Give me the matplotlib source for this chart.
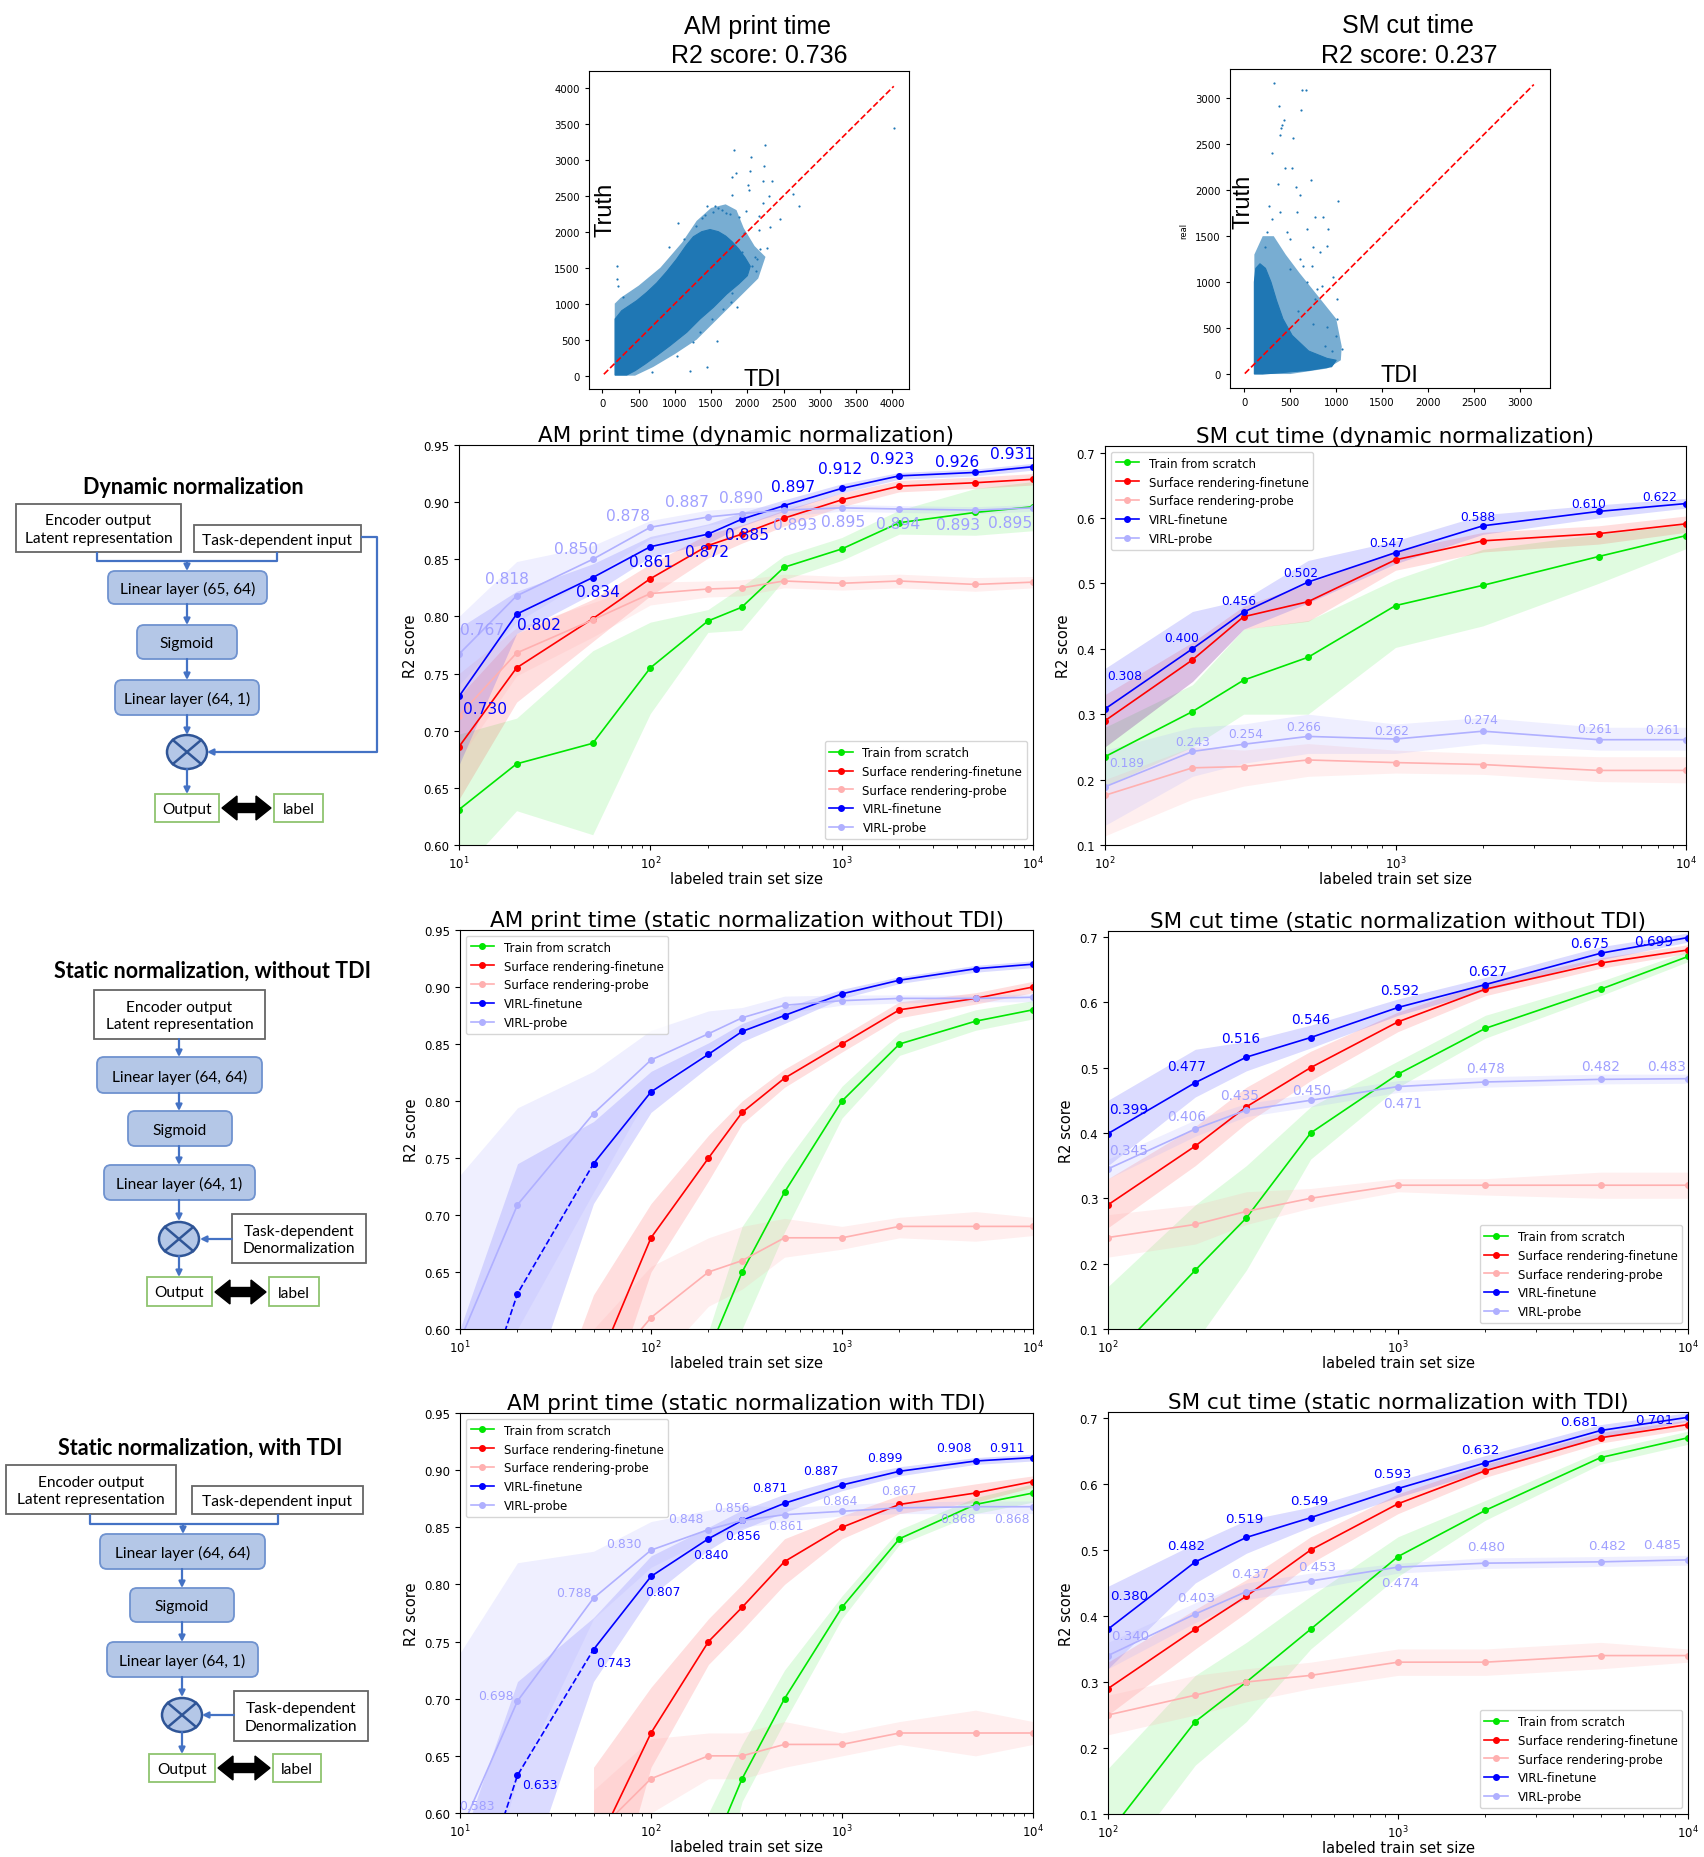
import numpy as np
import matplotlib
matplotlib.use("Agg")
import matplotlib.pyplot as plt
from matplotlib.patches import FancyBboxPatch, Rectangle, Ellipse, Polygon

nan = np.nan

# ---------------- data ----------------
SIZES_AM = [10, 20, 50, 100, 200, 300, 500, 1000, 2000, 5000, 10000]
SIZES_SM = [100, 200, 300, 500, 1000, 2000, 5000, 10000]

# AM print time, dynamic normalization
am_dyn_scratch = [0.631, 0.671, 0.689, 0.755, 0.796, 0.808, 0.843, 0.859, 0.882, 0.891, 0.896]
am_dyn_scratch_lo = [0.575, 0.630, 0.609, 0.715, 0.786, 0.788, 0.832, 0.849, 0.872, 0.871, 0.875]
am_dyn_scratch_hi = [0.697, 0.711, 0.770, 0.795, 0.806, 0.826, 0.853, 0.869, 0.893, 0.912, 0.918]
am_dyn_srft = [0.686, 0.755, 0.798, 0.833, 0.862, 0.872, 0.886, 0.902, 0.914, 0.917, 0.920]
am_dyn_srft_lo = [0.640, 0.725, 0.778, 0.818, 0.851, 0.864, 0.879, 0.896, 0.909, 0.912, 0.915]
am_dyn_srft_hi = [0.730, 0.785, 0.815, 0.846, 0.872, 0.880, 0.893, 0.908, 0.919, 0.922, 0.925]
am_dyn_srpr = [0.713, 0.768, 0.797, 0.820, 0.824, 0.825, 0.831, 0.829, 0.831, 0.828, 0.830]
am_dyn_srpr_lo = [0.675, 0.748, 0.782, 0.810, 0.817, 0.818, 0.825, 0.823, 0.825, 0.822, 0.825]
am_dyn_srpr_hi = [0.750, 0.790, 0.812, 0.830, 0.831, 0.832, 0.837, 0.835, 0.837, 0.834, 0.835]
am_dyn_virlft = [0.730, 0.802, 0.834, 0.861, 0.872, 0.885, 0.897, 0.912, 0.923, 0.926, 0.931]
am_dyn_virlft_lo = [0.670, 0.785, 0.820, 0.852, 0.864, 0.879, 0.892, 0.908, 0.920, 0.923, 0.928]
am_dyn_virlft_hi = [0.790, 0.822, 0.846, 0.870, 0.881, 0.891, 0.902, 0.916, 0.926, 0.929, 0.934]
am_dyn_virlpr = [0.767, 0.818, 0.850, 0.878, 0.887, 0.890, 0.893, 0.895, 0.894, 0.893, 0.895]
am_dyn_virlpr_lo = [0.740, 0.795, 0.835, 0.868, 0.880, 0.884, 0.888, 0.892, 0.891, 0.890, 0.892]
am_dyn_virlpr_hi = [0.800, 0.848, 0.862, 0.884, 0.893, 0.895, 0.897, 0.898, 0.897, 0.896, 0.898]

# SM cut time, dynamic normalization
sm_dyn_scratch = [0.235, 0.304, 0.352, 0.387, 0.466, 0.497, 0.541, 0.573]
sm_dyn_scratch_lo = [0.190, 0.250, 0.300, 0.300, 0.402, 0.435, 0.500, 0.553]
sm_dyn_scratch_hi = [0.280, 0.345, 0.430, 0.443, 0.506, 0.552, 0.575, 0.590]
sm_dyn_srft = [0.290, 0.383, 0.449, 0.472, 0.536, 0.565, 0.576, 0.591]
sm_dyn_srft_lo = [0.250, 0.350, 0.430, 0.442, 0.520, 0.548, 0.560, 0.578]
sm_dyn_srft_hi = [0.330, 0.410, 0.465, 0.500, 0.550, 0.578, 0.588, 0.603]
sm_dyn_srpr = [0.176, 0.218, 0.220, 0.230, 0.226, 0.223, 0.214, 0.214]
sm_dyn_srpr_lo = [0.114, 0.170, 0.190, 0.205, 0.210, 0.208, 0.197, 0.195]
sm_dyn_srpr_hi = [0.200, 0.250, 0.245, 0.255, 0.245, 0.240, 0.235, 0.235]
sm_dyn_virlft = [0.308, 0.400, 0.456, 0.502, 0.547, 0.588, 0.610, 0.622]
sm_dyn_virlft_lo = [0.250, 0.350, 0.430, 0.470, 0.530, 0.575, 0.600, 0.615]
sm_dyn_virlft_hi = [0.370, 0.457, 0.475, 0.535, 0.565, 0.605, 0.620, 0.630]
sm_dyn_virlpr = [0.189, 0.243, 0.254, 0.266, 0.262, 0.274, 0.261, 0.261]
sm_dyn_virlpr_lo = [0.130, 0.205, 0.225, 0.240, 0.240, 0.255, 0.245, 0.245]
sm_dyn_virlpr_hi = [0.245, 0.280, 0.285, 0.300, 0.285, 0.295, 0.280, 0.280]

# AM print time, static normalization without TDI
am_wo_scratch = [nan, nan, nan, nan, 0.58, 0.65, 0.72, 0.80, 0.85, 0.87, 0.88]
am_wo_scratch_lo = [nan, nan, nan, nan, 0.50, 0.60, 0.685, 0.785, 0.840, 0.862, 0.872]
am_wo_scratch_hi = [nan, nan, nan, nan, 0.598, 0.69, 0.745, 0.813, 0.860, 0.880, 0.888]
am_wo_srft = [nan, 0.40, 0.56, 0.68, 0.75, 0.79, 0.82, 0.85, 0.88, 0.89, 0.90]
am_wo_srft_lo = [nan, 0.33, 0.50, 0.65, 0.73, 0.78, 0.812, 0.843, 0.873, 0.885, 0.895]
am_wo_srft_hi = [nan, 0.45, 0.63, 0.71, 0.77, 0.80, 0.828, 0.857, 0.887, 0.895, 0.905]
am_wo_srpr = [nan, nan, 0.55, 0.61, 0.65, 0.66, 0.68, 0.68, 0.69, 0.69, 0.69]
am_wo_srpr_lo = [nan, nan, 0.50, 0.565, 0.62, 0.635, 0.663, 0.670, 0.680, 0.677, 0.682]
am_wo_srpr_hi = [nan, nan, 0.60, 0.655, 0.68, 0.69, 0.697, 0.690, 0.698, 0.703, 0.698]
am_wo_virlft = [0.48, 0.631, 0.745, 0.808, 0.841, 0.861, 0.875, 0.894, 0.906, 0.916, 0.920]
am_wo_virlft_lo = [0.35, 0.515, 0.710, 0.790, 0.830, 0.852, 0.868, 0.890, 0.903, 0.913, 0.917]
am_wo_virlft_hi = [0.60, 0.745, 0.782, 0.826, 0.851, 0.868, 0.882, 0.898, 0.909, 0.919, 0.923]
am_wo_virlpr = [0.59, 0.709, 0.789, 0.836, 0.859, 0.873, 0.884, 0.888, 0.890, 0.890, 0.891]
am_wo_virlpr_lo = [0.45, 0.60, 0.72, 0.81, 0.845, 0.862, 0.877, 0.884, 0.886, 0.887, 0.887]
am_wo_virlpr_hi = [0.735, 0.794, 0.826, 0.862, 0.879, 0.882, 0.892, 0.893, 0.893, 0.893, 0.894]

# SM cut time, static normalization without TDI
sm_wo_scratch = [0.05, 0.19, 0.27, 0.40, 0.49, 0.56, 0.62, 0.67]
sm_wo_scratch_lo = [0.00, 0.08, 0.19, 0.36, 0.47, 0.545, 0.61, 0.662]
sm_wo_scratch_hi = [0.165, 0.29, 0.35, 0.44, 0.51, 0.58, 0.632, 0.678]
sm_wo_srft = [0.29, 0.38, 0.44, 0.50, 0.57, 0.62, 0.66, 0.68]
sm_wo_srft_lo = [0.255, 0.35, 0.415, 0.48, 0.555, 0.61, 0.652, 0.675]
sm_wo_srft_hi = [0.33, 0.41, 0.47, 0.525, 0.585, 0.63, 0.668, 0.688]
sm_wo_srpr = [0.24, 0.26, 0.28, 0.30, 0.32, 0.32, 0.32, 0.32]
sm_wo_srpr_lo = [0.21, 0.23, 0.26, 0.285, 0.31, 0.305, 0.30, 0.30]
sm_wo_srpr_hi = [0.275, 0.29, 0.31, 0.315, 0.33, 0.33, 0.34, 0.34]
sm_wo_virlft = [0.399, 0.477, 0.516, 0.546, 0.592, 0.627, 0.675, 0.699]
sm_wo_virlft_lo = [0.35, 0.455, 0.495, 0.53, 0.58, 0.618, 0.665, 0.692]
sm_wo_virlft_hi = [0.45, 0.528, 0.54, 0.565, 0.605, 0.638, 0.685, 0.706]
sm_wo_virlpr = [0.345, 0.406, 0.435, 0.450, 0.471, 0.478, 0.482, 0.483]
sm_wo_virlpr_lo = [0.33, 0.395, 0.425, 0.44, 0.462, 0.47, 0.475, 0.476]
sm_wo_virlpr_hi = [0.36, 0.42, 0.445, 0.46, 0.48, 0.486, 0.49, 0.49]

# AM print time, static normalization with TDI
am_w_scratch = [nan, nan, nan, nan, 0.56, 0.63, 0.70, 0.78, 0.84, 0.87, 0.88]
am_w_scratch_lo = [nan, nan, nan, nan, 0.50, 0.61, 0.68, 0.77, 0.835, 0.862, 0.872]
am_w_scratch_hi = [nan, nan, nan, nan, 0.60, 0.66, 0.725, 0.79, 0.848, 0.876, 0.888]
am_w_srft = [nan, nan, 0.565, 0.67, 0.75, 0.78, 0.82, 0.85, 0.87, 0.88, 0.89]
am_w_srft_lo = [nan, nan, 0.46, 0.64, 0.73, 0.76, 0.80, 0.84, 0.862, 0.872, 0.885]
am_w_srft_hi = [nan, nan, 0.64, 0.71, 0.77, 0.80, 0.84, 0.86, 0.878, 0.888, 0.895]
am_w_srpr = [nan, nan, 0.58, 0.63, 0.65, 0.65, 0.66, 0.66, 0.67, 0.67, 0.67]
am_w_srpr_lo = [nan, nan, 0.54, 0.60, 0.63, 0.63, 0.64, 0.65, 0.66, 0.65, 0.66]
am_w_srpr_hi = [nan, nan, 0.62, 0.665, 0.67, 0.67, 0.68, 0.67, 0.68, 0.69, 0.68]
am_w_virlft = [0.48, 0.633, 0.743, 0.807, 0.840, 0.856, 0.871, 0.887, 0.899, 0.908, 0.911]
am_w_virlft_lo = [0.35, 0.52, 0.715, 0.79, 0.83, 0.848, 0.863, 0.882, 0.895, 0.905, 0.908]
am_w_virlft_hi = [0.57, 0.715, 0.771, 0.825, 0.85, 0.865, 0.879, 0.893, 0.903, 0.911, 0.914]
am_w_virlpr = [0.583, 0.698, 0.788, 0.830, 0.848, 0.856, 0.861, 0.864, 0.867, 0.868, 0.868]
am_w_virlpr_lo = [0.45, 0.63, 0.77, 0.815, 0.84, 0.85, 0.855, 0.86, 0.862, 0.862, 0.862]
am_w_virlpr_hi = [0.74, 0.819, 0.829, 0.855, 0.865, 0.87, 0.867, 0.87, 0.872, 0.873, 0.873]

# SM cut time, static normalization with TDI
sm_w_scratch = [0.07, 0.24, 0.30, 0.38, 0.49, 0.56, 0.64, 0.67]
sm_w_scratch_lo = [0.00, 0.174, 0.24, 0.35, 0.46, 0.545, 0.63, 0.66]
sm_w_scratch_hi = [0.169, 0.31, 0.36, 0.43, 0.52, 0.575, 0.65, 0.68]
sm_w_srft = [0.29, 0.38, 0.43, 0.50, 0.57, 0.62, 0.67, 0.69]
sm_w_srft_lo = [0.25, 0.35, 0.405, 0.48, 0.555, 0.61, 0.662, 0.683]
sm_w_srft_hi = [0.33, 0.41, 0.455, 0.52, 0.585, 0.63, 0.678, 0.697]
sm_w_srpr = [0.25, 0.28, 0.30, 0.31, 0.33, 0.33, 0.34, 0.34]
sm_w_srpr_lo = [0.22, 0.25, 0.27, 0.29, 0.31, 0.31, 0.32, 0.33]
sm_w_srpr_hi = [0.28, 0.31, 0.32, 0.33, 0.35, 0.35, 0.36, 0.35]
sm_w_virlft = [0.380, 0.482, 0.519, 0.549, 0.593, 0.632, 0.681, 0.701]
sm_w_virlft_lo = [0.32, 0.45, 0.495, 0.535, 0.58, 0.62, 0.67, 0.695]
sm_w_virlft_hi = [0.445, 0.51, 0.545, 0.565, 0.605, 0.643, 0.69, 0.708]
sm_w_virlpr = [0.340, 0.403, 0.437, 0.453, 0.474, 0.480, 0.482, 0.485]
sm_w_virlpr_lo = [0.32, 0.39, 0.425, 0.44, 0.465, 0.472, 0.475, 0.477]
sm_w_virlpr_hi = [0.36, 0.42, 0.45, 0.465, 0.48, 0.488, 0.49, 0.492]

# scatter: TDI vs truth (dense core, sparser fringe, individual outliers)
am_core_x = [175, 175, 267, 474, 612, 749, 887, 1025, 1154, 1255, 1370, 1485, 1600, 1700, 1790,
             1880, 1968, 2040, 2000, 1880, 1715, 1531, 1347, 1163, 933, 749, 589, 451, 336]
am_core_y = [9, 787, 903, 1042, 1157, 1287, 1445, 1620, 1806, 1930, 2000, 2030, 2000, 1940, 1860,
             1760, 1640, 1520, 1389, 1273, 1134, 949, 787, 602, 417, 278, 162, 69, 9]
am_fringe_x = [170, 170, 250, 500, 800, 1100, 1300, 1500, 1700, 1850, 1950, 2100, 2250, 2150,
               1950, 1700, 1500, 1300, 1000, 700, 450]
am_fringe_y = [0, 1000, 1080, 1250, 1500, 1850, 2150, 2330, 2380, 2300, 2050, 1800, 1650, 1350,
               1150, 900, 700, 500, 300, 120, 0]
am_out_x = [4028, 2244, 1816, 2051, 2230, 2032, 1839, 1793, 2345, 2221, 2014, 2023, 2635, 1788, 2304,
            2221, 2708, 1977, 1439, 2166, 2451, 1048, 2313, 2156, 2175, 2267, 924, 198, 198, 221,
            280, 1784, 1853, 1775, 1577, 1508, 1439, 1209, 680, 2060, 2106, 1922, 1669, 1347, 1255,
            1025, 1600, 1520, 1420, 1700, 1880, 1950, 2130, 2120, 1760, 1290, 1130, 1560, 1650, 1380]
am_out_y = [3440, 3209, 3134, 3033, 2917, 2838, 2810, 2755, 2699, 2699, 2653, 2584, 2523, 2509, 2491,
            2394, 2352, 2292, 2352, 2222, 2176, 2116, 2070, 2028, 1759, 1769, 1783, 1528, 1343, 1241,
            1088, 1148, 949, 1019, 477, 787, 116, 69, 46, 1528, 1644, 1713, 926, 602, 463,
            278, 2330, 2280, 2230, 2260, 2200, 1980, 1620, 1450, 2240, 2080, 1900, 2350, 2300, 2190]
am_diag = [20, 4020]

sm_core_x = [109, 109, 125, 170, 230, 290, 350, 420, 520, 700, 900, 1000, 950, 700, 400, 200]
sm_core_y = [0, 1000, 1150, 1200, 1150, 1000, 800, 600, 420, 250, 170, 150, 80, 40, 15, 0]
sm_fringe_x = [109, 109, 200, 320, 450, 600, 800, 1000, 1060, 1050, 900, 500]
sm_fringe_y = [0, 1300, 1500, 1500, 1300, 1100, 850, 600, 300, 150, 60, 0]
sm_out_x = [327, 377, 624, 671, 617, 435, 414, 399, 533, 443, 515, 726, 370, 566, 1023, 606, 272,
            860, 769, 914, 678, 461, 896, 751, 497, 961, 1005, 842, 1005, 896, 994, 787, 769, 678,
            606, 388, 297, 570, 243, 225, 1059, 860, 951, 878, 751, 588, 497, 642, 733, 824, 388, 300]
sm_out_y = [3164, 2921, 3091, 3091, 2873, 2768, 2714, 2677, 2569, 2242, 2242, 2115, 2068, 2039, 1879,
            1952, 1825, 1705, 1705, 1578, 1578, 1542, 1397, 1379, 1469, 1052, 816, 961, 599, 508,
            417, 925, 816, 998, 1252, 1760, 1687, 1760, 1542, 1379, 272, 91, 254, 308, 544, 689,
            1143, 1179, 1179, 1324, 2600, 2410]
sm_diag = [5, 3150]

# ---------------- style ----------------
W, H = 1704, 1858
NAMES = ["Train from scratch", "Surface rendering-finetune", "Surface rendering-probe",
         "VIRL-finetune", "VIRL-probe"]
COLORS = ["#00e600", "#ff0000", "#ffb0b0", "#0000ff", "#b0b0ff"]
BAND_ALPHA = [0.12, 0.13, 0.2, 0.14, 0.2]
FT_LABEL = "#0000ff"
PR_LABEL = "#a0a0ff"

fig = plt.figure(figsize=(W / 100, H / 100), dpi=100)


def rect(x0, y0, x1, y1):
    return [x0 / W, 1 - y1 / H, (x1 - x0) / W, (y1 - y0) / H]


def ftext(x, y, s, **kw):
    fig.text(x / W, 1 - y / H, s, **kw)


# ---------------- block diagrams ----------------
dg = fig.add_axes([0, 0, 1, 1])
dg.set_xlim(0, W)
dg.set_ylim(H, 0)
dg.axis("off")

BOX_FILL = "#b4c7e7"
BOX_EDGE = "#6f92cf"
CONN = "#4472c4"
DARK = "#2f5597"
DFONT = "Lato"


def layer_box(x0, y0, x1, y1, text):
    dg.add_patch(FancyBboxPatch((x0, y0), x1 - x0, y1 - y0,
                                boxstyle="round,pad=0,rounding_size=7",
                                fc=BOX_FILL, ec=BOX_EDGE, lw=1.3))
    dg.text((x0 + x1) / 2, (y0 + y1) / 2 + 1, text, ha="center", va="center",
            fontsize=11.2, family=DFONT)


def plain_box(x0, y0, x1, y1, text, ec="#666666"):
    dg.add_patch(Rectangle((x0, y0), x1 - x0, y1 - y0, fc="white", ec=ec, lw=1.3))
    dg.text((x0 + x1) / 2, (y0 + y1) / 2 + 1, text, ha="center", va="center",
            fontsize=11.2, family=DFONT, linespacing=1.3)


def arrow(x0, y0, x1, y1):
    dg.annotate("", xy=(x1, y1), xytext=(x0, y0),
                arrowprops=dict(arrowstyle="-|>", color=CONN, lw=1.6,
                                mutation_scale=9, shrinkA=0, shrinkB=0))


def wire(xs, ys):
    dg.plot(xs, ys, color=CONN, lw=1.6, solid_capstyle="butt")


def multiply(cx, cy):
    rx, ry = 20, 17
    dg.add_patch(Ellipse((cx, cy), 2 * rx, 2 * ry, fc=BOX_FILL, ec=DARK, lw=1.8))
    c = np.cos(np.pi / 4)
    dg.plot([cx - rx * c, cx + rx * c], [cy - ry * c, cy + ry * c], color=DARK, lw=1.8)
    dg.plot([cx - rx * c, cx + rx * c], [cy + ry * c, cy - ry * c], color=DARK, lw=1.8)


def dbl_arrow(x0, x1, y):
    hl, hh, sh = 15, 12, 4.5
    pts = [(x0, y), (x0 + hl, y - hh), (x0 + hl, y - sh), (x1 - hl, y - sh), (x1 - hl, y - hh),
           (x1, y), (x1 - hl, y + hh), (x1 - hl, y + sh), (x0 + hl, y + sh), (x0 + hl, y + hh)]
    dg.add_patch(Polygon(pts, closed=True, fc="black", ec="black", lw=1))


def out_label(y0, y1, ox0, ox1, lx0, lx1, ay):
    plain_box(ox0, y0, ox1, y1, "Output", ec="#8fc46f")
    plain_box(lx0, y0, lx1, y1, "label", ec="#8fc46f")
    dbl_arrow(ox1 + 3, lx0 - 3, ay)


def diagram_title(x, y, s):
    dg.text(x, y, s, ha="center", va="center", fontsize=15.5, fontweight="bold", family=DFONT)


# dynamic normalization
diagram_title(193, 487, "Dynamic normalization")
plain_box(16, 505, 181, 553, "Encoder output\nLatent representation")
plain_box(194, 526, 361, 553, "Task-dependent input")
wire([97, 97, 277, 277], [553, 562, 562, 553])
arrow(187, 562, 187, 572)
layer_box(108, 572, 267, 605, "Linear layer (65, 64)")
arrow(187, 605, 187, 626)
layer_box(137, 626, 237, 660, "Sigmoid")
arrow(187, 660, 187, 681)
layer_box(115, 681, 259, 716, "Linear layer (64, 1)")
arrow(187, 716, 187, 736)
wire([361, 377, 377, 230], [538, 538, 753, 753])
arrow(230, 753, 207, 753)
multiply(187, 753)
arrow(187, 770, 187, 795)
out_label(795, 823, 155, 219, 274, 323, 809)

# static normalization without TDI
diagram_title(213, 971, "Static normalization, without TDI")
plain_box(94, 991, 265, 1040, "Encoder output\nLatent representation")
arrow(179, 1040, 179, 1058)
layer_box(97, 1058, 262, 1094, "Linear layer (64, 64)")
arrow(179, 1094, 179, 1112)
layer_box(128, 1112, 232, 1147, "Sigmoid")
arrow(179, 1147, 179, 1166)
layer_box(104, 1166, 255, 1201, "Linear layer (64, 1)")
arrow(179, 1201, 179, 1222)
multiply(179, 1240)
plain_box(232, 1215, 366, 1264, "Task-dependent\nDenormalization")
arrow(232, 1240, 200, 1240)
arrow(179, 1257, 179, 1278)
out_label(1278, 1307, 147, 212, 269, 319, 1293)

# static normalization with TDI
diagram_title(200, 1448, "Static normalization, with TDI")
plain_box(6, 1466, 176, 1515, "Encoder output\nLatent representation")
plain_box(192, 1487, 363, 1515, "Task-dependent input")
wire([90, 90, 278, 278], [1515, 1525, 1525, 1515])
arrow(183, 1525, 183, 1535)
layer_box(100, 1535, 265, 1570, "Linear layer (64, 64)")
arrow(182, 1570, 182, 1589)
layer_box(130, 1589, 234, 1623, "Sigmoid")
arrow(182, 1623, 182, 1643)
layer_box(107, 1643, 258, 1678, "Linear layer (64, 1)")
arrow(182, 1678, 182, 1698)
multiply(182, 1716)
plain_box(234, 1692, 368, 1742, "Task-dependent\nDenormalization")
arrow(234, 1716, 202, 1716)
arrow(182, 1733, 182, 1755)
out_label(1755, 1783, 149, 215, 273, 321, 1769)

# ---------------- scatter plots ----------------
SC_FONT = "Liberation Sans"
SC_BLUE = "#1f77b4"


def scatter_panel(pos, core, fringe, outliers, diag, lim, ticks):
    ax = fig.add_axes(rect(*pos))
    ax.fill(*fringe, color=SC_BLUE, alpha=0.6, lw=0)
    ax.fill(*core, color=SC_BLUE, lw=0.8, ec=SC_BLUE)
    ax.scatter(*outliers, s=2.5, color=SC_BLUE, lw=0)
    ax.plot(diag, diag, "--", color="red", lw=1.2)
    ax.set_xlim(*lim[0])
    ax.set_ylim(*lim[1])
    ax.set_xticks(ticks)
    ax.set_yticks(ticks)
    ax.tick_params(labelsize=7.3, length=3)
    return ax


scatter_panel((589, 72, 909, 390), (am_core_x, am_core_y), (am_fringe_x, am_fringe_y),
              (am_out_x, am_out_y), am_diag, ((-185, 4230), (-185, 4232)),
              list(range(0, 4001, 500)))
scatter_panel((1230, 70, 1550, 389), (sm_core_x, sm_core_y), (sm_fringe_x, sm_fringe_y),
              (sm_out_x, sm_out_y), sm_diag, ((-156, 3326), (-152, 3319)),
              list(range(0, 3001, 500)))

ftext(758, 34, "AM print time", ha="center", va="baseline", fontsize=18, family=SC_FONT)
ftext(759, 63, "R2 score: 0.736", ha="center", va="baseline", fontsize=18, family=SC_FONT)
ftext(1408, 33, "SM cut time", ha="center", va="baseline", fontsize=18, family=SC_FONT)
ftext(1409, 63, "R2 score: 0.237", ha="center", va="baseline", fontsize=18, family=SC_FONT)
ftext(605, 210, "Truth", ha="center", va="center", rotation=90, fontsize=17, family=SC_FONT)
ftext(762, 386, "TDI", ha="center", va="baseline", fontsize=17, family=SC_FONT)
ftext(1243, 202, "Truth", ha="center", va="center", rotation=90, fontsize=17, family=SC_FONT)
ftext(1399, 382, "TDI", ha="center", va="baseline", fontsize=17, family=SC_FONT)
ftext(1184, 231, "real", ha="center", va="center", rotation=90, fontsize=6)


# ---------------- learning curves ----------------
def curve_panel(pos, title, sizes, series, xlim, ylim, legend_loc,
                ft_off=None, pr_off=None, label_size=9, dashed=False):
    ax = fig.add_axes(rect(*pos))
    x = np.array(sizes, float)
    for i, (mean, lo, hi) in enumerate(series):
        m = np.array(mean, float)
        ax.fill_between(x, np.array(lo, float), np.array(hi, float),
                        color=COLORS[i], alpha=BAND_ALPHA[i], lw=0)
        style = dict(color=COLORS[i], marker="o", ms=4, lw=1.2)
        if dashed and i == 3:
            ax.plot(x[:3], m[:3], "--", **style)
            ax.plot(x[2:], m[2:], label=NAMES[i], **style)
        else:
            ax.plot(x, m, label=NAMES[i], **style)
    for idx, offs, col in ((3, ft_off, FT_LABEL), (4, pr_off, PR_LABEL)):
        if offs is None:
            continue
        vals = series[idx][0]
        for xv, yv, off in zip(sizes, vals, offs):
            if off is None:
                continue
            ax.annotate(f"{yv:.3f}", (xv, yv), xytext=off, textcoords="offset pixels",
                        ha="center", va="center", color=col, fontsize=label_size,
                        annotation_clip=False)
    ax.set_xscale("log")
    ax.set_xlim(*xlim)
    ax.set_ylim(*ylim)
    ax.set_title(title, fontsize=15.5, pad=0.5)
    ax.set_xlabel("labeled train set size", fontsize=10.5, labelpad=0)
    ax.set_ylabel("R2 score", fontsize=10.5)
    ax.tick_params(labelsize=8.5)
    ax.legend(loc=legend_loc, fontsize=8.5)
    return ax


def pack(prefix):
    g = globals()
    return [(g[prefix + k], g[prefix + k + "_lo"], g[prefix + k + "_hi"])
            for k in ("scratch", "srft", "srpr", "virlft", "virlpr")]


curve_panel((459, 446, 1033, 846), "AM print time (dynamic normalization)", SIZES_AM,
            pack("am_dyn_"), (10, 1e4), (0.60, 0.95), "lower right",
            ft_off=[(26, -12), (22, -10), (5, -14), (1, -15), (-1, -17), (5, -15), (9, 19),
                    (-2, 20), (-7, 17), (-18, 11), (-21, 13)],
            pr_off=[(23, 25), (-10, 17), (-17, 11), (-22, 12), (-21, 15), (-1, 16), (11, -14),
                    (2, -14), (-1, -15), (-17, -14), (-23, -15)],
            label_size=11.2)

curve_panel((1105, 447, 1686, 846), "SM cut time (dynamic normalization)", SIZES_SM,
            pack("sm_dyn_"), (100, 1e4), (0.1, 0.71), "upper left",
            ft_off=[(20, 33), (-11, 11), (-5, 12), (-7, 10), (-9, 10), (-5, 9), (-10, 8), (-26, 7)],
            pr_off=[(22, 24), (0, 10), (2, 11), (-4, 10), (-4, 9), (-2, 12), (-4, 11), (-23, 10)],
            label_size=8.8)

curve_panel((460, 931, 1033, 1330), "AM print time (static normalization without TDI)", SIZES_AM,
            pack("am_wo_"), (10, 1e4), (0.60, 0.95), "upper left", dashed=True)

curve_panel((1108, 932, 1688, 1330), "SM cut time (static normalization without TDI)", SIZES_SM,
            pack("sm_wo_"), (100, 1e4), (0.1, 0.709), "lower right",
            ft_off=[(21, 25), (-9, 17), (-6, 19), (0, 19), (2, 17), (2, 14), (-11, 10), (-34, -3)],
            pr_off=[(21, 19), (-9, 13), (-7, 15), (1, 10), (5, -16), (0, 14), (0, 13), (-21, 13)],
            label_size=9.8)

curve_panel((460, 1414, 1033, 1814), "AM print time (static normalization with TDI)", SIZES_AM,
            pack("am_w_"), (10, 1e4), (0.60, 0.95), "upper left", dashed=True,
            ft_off=[None, (22, -9), (20, -13), (12, -15), (2, -16), (1, -15), (-15, 16),
                    (-21, 14), (-15, 14), (-22, 13), (-26, 10)],
            pr_off=[(17, 27), (-22, 5), (-20, 6), (-27, 7), (-23, 11), (-10, 13), (1, -11),
                    (-2, 11), (-1, 17), (-18, -12), (-21, -12)],
            label_size=8.9)

curve_panel((1108, 1413, 1688, 1815), "SM cut time (static normalization with TDI)", SIZES_SM,
            pack("sm_w_"), (100, 1e4), (0.1, 0.709), "lower right",
            ft_off=[(21, 34), (-9, 16), (-2, 19), (-1, 17), (-6, 15), (-5, 13), (-22, 9), (-34, -2)],
            pr_off=[(22, 20), (1, 16), (4, 18), (6, 14), (2, -15), (1, 17), (6, 16), (-26, 15)],
            label_size=9.6)

fig.savefig("out.png", dpi=100)
